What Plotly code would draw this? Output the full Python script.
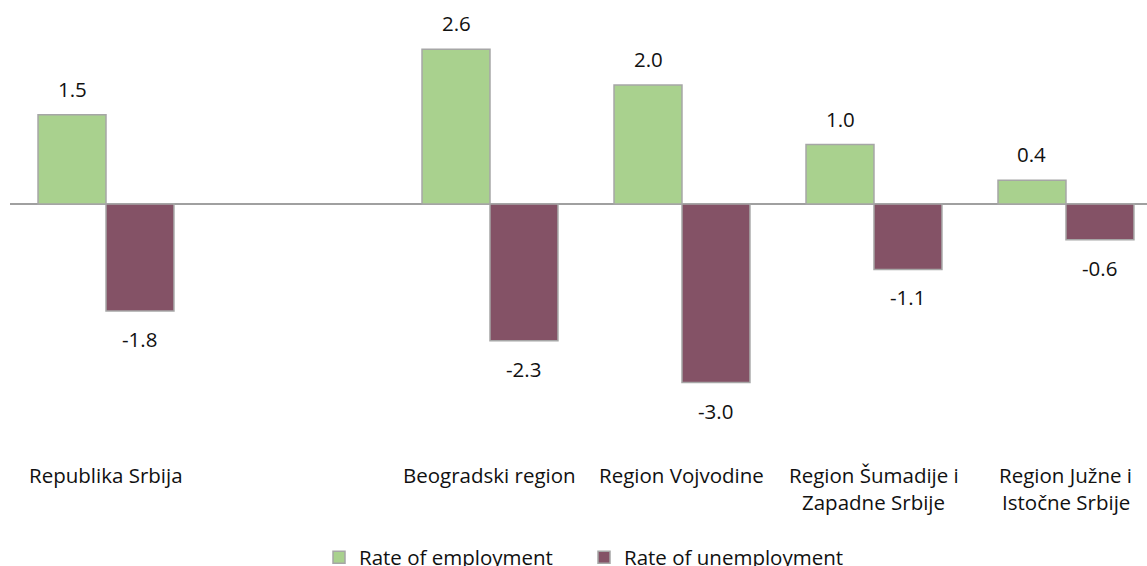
import plotly.graph_objects as go

categories = ["Republika Srbija", "", "Beogradski region", "Region Vojvodine",
              "Region Šumadije i<br>Zapadne Srbije", "Region Južne i<br>Istočne Srbije"]
employment = [1.5, None, 2.6, 2.0, 1.0, 0.4]
unemployment = [-1.8, None, -2.3, -3.0, -1.1, -0.6]
series_names = ["Rate of employment", "Rate of unemployment"]

GREEN = "#A9D18E"
PURPLE = "#845266"
EDGE = "#A6A6A6"
FONT = "Open Sans"
FS = 20.5
TXT = "#111111"

xs = list(range(len(categories)))

fig = go.Figure()
for name, vals, col in [(series_names[0], employment, GREEN), (series_names[1], unemployment, PURPLE)]:
    fig.add_trace(go.Bar(
        x=xs, y=vals, name=name,
        marker=dict(color=col, line=dict(color=EDGE, width=1.5)),
    ))

annotations = []
# data labels
for i in xs:
    for k, vals in enumerate([employment, unemployment]):
        v = vals[i]
        if v is None:
            continue
        off = -0.177 if k == 0 else 0.177
        annotations.append(dict(
            x=i + off, y=v, xref="x", yref="y", text=f"{v:.1f}", showarrow=False,
            yanchor="middle", yshift=26 if v >= 0 else -28,
            font=dict(family=FONT, size=FS, color=TXT),
        ))
# category labels
for i, c in enumerate(categories):
    if not c:
        continue
    for j, line in enumerate(c.split("<br>")):
        annotations.append(dict(
            x=i, y=0, xref="x", yref="paper", text=line, showarrow=False,
            yanchor="middle", yshift=-24.5 - 27 * j,
            font=dict(family=FONT, size=FS, color=TXT),
        ))

fig.update_layout(
    width=1147, height=566,
    margin=dict(l=10, r=0, t=10, b=116, autoexpand=False),
    paper_bgcolor="white", plot_bgcolor="white",
    barmode="group", bargap=0.292, bargroupgap=0,
    font=dict(family=FONT, size=FS, color=TXT),
    xaxis=dict(range=[-0.5, 5.422], showticklabels=False, showgrid=False,
               zeroline=False, showline=False, ticks=""),
    yaxis=dict(range=[-246 / 59.5, 194 / 59.5], showticklabels=False, showgrid=False,
               zeroline=True, zerolinecolor="#A0A0A0", zerolinewidth=1.5,
               showline=False, ticks=""),
    showlegend=True,
    legend=dict(orientation="h", x=(319 - 10) / 1137, xanchor="left",
                y=-0.244, yanchor="middle",
                font=dict(family=FONT, size=FS, color=TXT),
                itemwidth=30, entrywidth=220, entrywidthmode="pixels",
                traceorder="normal"),
    annotations=annotations,
)

fig.write_html("out.html", config={"displayModeBar": False},
               post_script="document.body.style.margin='0';")
